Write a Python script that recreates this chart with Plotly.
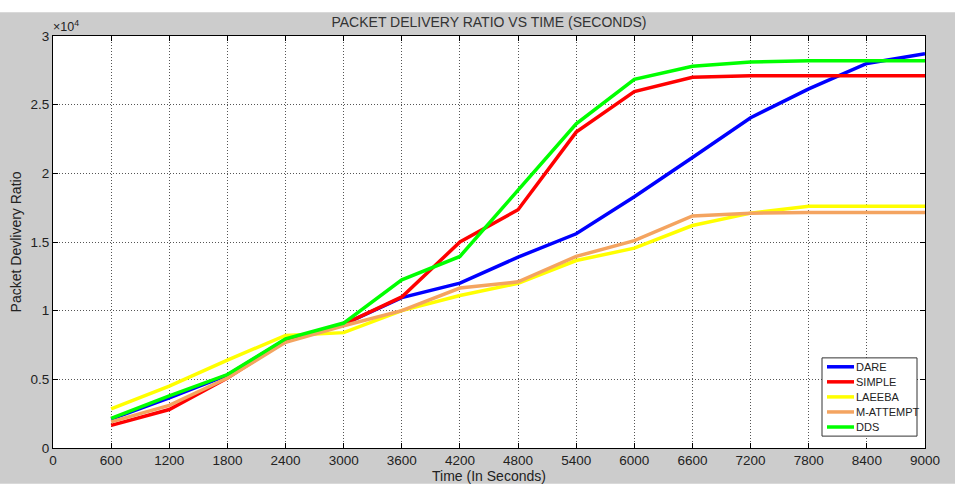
import plotly.graph_objects as go

time_s = [600, 1200, 1800, 2400, 3000, 3600, 4200, 4800, 5400, 6000, 6600, 7200, 7800, 8400, 9000]

dare = [2100, 3650, 5300, 7900, 9000, 10950, 12000, 13900, 15600, 18300, 21150, 24050, 26150, 28000, 28700]
simple = [1650, 2800, 5100, 7800, 9000, 11000, 15000, 17350, 23000, 25950, 27000, 27100, 27100, 27100, 27100]
laeeba = [2850, 4500, 6400, 8200, 8400, 10000, 11100, 12000, 13650, 14550, 16200, 17100, 17600, 17600, 17600]
m_attempt = [1900, 3100, 5100, 7700, 8900, 10000, 11650, 12100, 13950, 15100, 16900, 17100, 17150, 17150, 17150]
dds = [2150, 3800, 5350, 7950, 9100, 12250, 13950, 18800, 23600, 26850, 27800, 28100, 28200, 28200, 28200]

series_names = ["DARE", "SIMPLE", "LAEEBA", "M-ATTEMPT", "DDS"]
series_values = [dare, simple, laeeba, m_attempt, dds]
series_colors = ["#0000ff", "#ff0000", "#ffff00", "#f4a460", "#00ff00"]

x_ticks = [0, 600, 1200, 1800, 2400, 3000, 3600, 4200, 4800, 5400, 6000, 6600, 7200, 7800, 8400, 9000]
y_ticks = [0, 5000, 10000, 15000, 20000, 25000, 30000]
y_tick_labels = ["0", "0.5", "1", "1.5", "2", "2.5", "3"]

FONT = "Liberation Sans, Arial, sans-serif"

fig = go.Figure()
for name, vals, col in zip(series_names, series_values, series_colors):
    fig.add_trace(go.Scatter(x=time_s, y=vals, mode="lines", name=name,
                             line=dict(color=col, width=3.5), showlegend=False))

L, R, T, B = 53, 32, 36, 40
W, H = 957, 492
pw, ph = W - L - R, H - T - B

def px_x(p):
    return (p - L) / pw

def px_y(p):
    return (H - B - p) / ph

shapes = [
    dict(type="rect", xref="paper", yref="paper", x0=-0.1, x1=1.1,
         y0=px_y(12), y1=px_y(-5), fillcolor="white", line_width=0, layer="below"),
    dict(type="rect", xref="paper", yref="paper", x0=px_x(955), x1=1.1,
         y0=px_y(500), y1=px_y(-5), fillcolor="white", line_width=0, layer="below"),
    dict(type="rect", xref="paper", yref="paper", x0=-0.1, x1=1.1,
         y0=px_y(500), y1=px_y(488), fillcolor="white", line_width=0, layer="below"),
    # legend box
    dict(type="rect", xref="paper", yref="paper", x0=px_x(822), x1=px_x(917),
         y0=px_y(440), y1=px_y(361), fillcolor="white",
         line=dict(color="#333333", width=1), layer="above"),
]
annotations = [
    dict(text="×10<sup>4</sup>", xref="paper", yref="paper", x=px_x(51), y=px_y(26),
         xanchor="left", yanchor="middle", showarrow=False,
         font=dict(family=FONT, size=12.5, color="#222222")),
]
leg_top, leg_step = 370, 15.2
for i, (name, col) in enumerate(zip(series_names, series_colors)):
    yy = px_y(leg_top + i * leg_step)
    shapes.append(dict(type="line", xref="paper", yref="paper", x0=px_x(827), x1=px_x(854),
                       y0=yy, y1=yy, line=dict(color=col, width=3.5), layer="above"))
    annotations.append(dict(text=name, xref="paper", yref="paper", x=px_x(854), y=yy,
                            xanchor="left", yanchor="middle", showarrow=False,
                            font=dict(family=FONT, size=11, color="#222222")))

fig.update_layout(
    width=W, height=H,
    margin=dict(l=L, r=R, t=T, b=B, pad=0),
    paper_bgcolor="#cccccc",
    plot_bgcolor="white",
    font=dict(family=FONT, size=13.5, color="#222222"),
    title=dict(text="PACKET DELIVERY RATIO VS TIME (SECONDS)", x=0.5, xref="paper",
               xanchor="center", y=1 - 22 / H, yanchor="middle",
               font=dict(family=FONT, size=14, color="#333333")),
    showlegend=False,
    xaxis=dict(range=[0, 9000], tickvals=x_ticks, ticktext=[str(v) for v in x_ticks],
               showgrid=True, gridcolor="#555555", griddash="1px,2px", gridwidth=1,
               zeroline=False, showline=True, linecolor="black", linewidth=1,
               mirror="ticks", ticks="inside", ticklen=5, tickcolor="black",
               title=dict(text="Time (In Seconds)", standoff=2, font=dict(size=14)),
               tickfont=dict(size=13.5)),
    yaxis=dict(range=[0, 30000], tickvals=y_ticks, ticktext=y_tick_labels,
               showgrid=True, gridcolor="#555555", griddash="1px,2px", gridwidth=1,
               zeroline=False, showline=True, linecolor="black", linewidth=1,
               mirror="ticks", ticks="inside", ticklen=5, tickcolor="black",
               title=dict(text="Packet Devlivery Ratio", standoff=5, font=dict(size=14)),
               tickfont=dict(size=13.5)),
    shapes=shapes,
    annotations=annotations,
)

fig.write_html("out.html")
